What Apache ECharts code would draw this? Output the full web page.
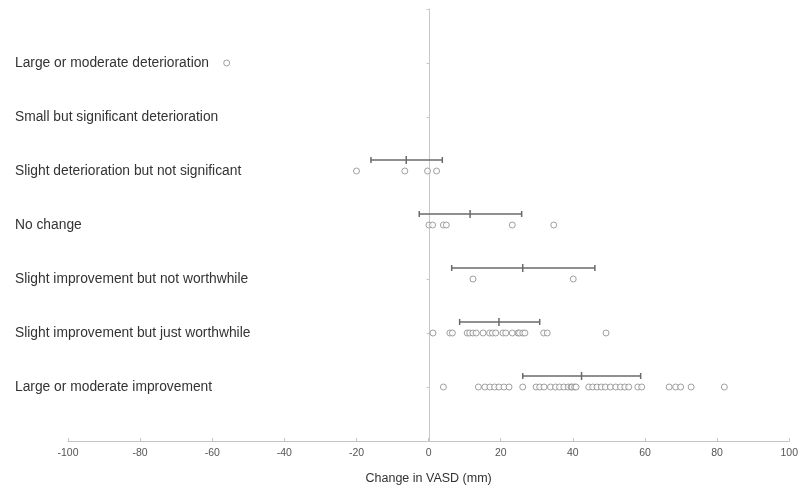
<!DOCTYPE html>
<html>
<head>
<meta charset="utf-8">
<script src="https://cdn.jsdelivr.net/npm/echarts@6/dist/echarts.min.js"></script>
<style>html,body{margin:0;padding:0;background:#fff}#c{width:801px;height:492px}</style>
</head>
<body>
<div id="c"></div>
<script>
// ---- data ----
var categories = [
  'Large or moderate deterioration',
  'Small but significant deterioration',
  'Slight deterioration but not significant',
  'No change',
  'Slight improvement but not worthwhile',
  'Slight improvement but just worthwhile',
  'Large or moderate improvement'
];
var largeDeterioration = [-56];
var smallDeterioration = [];
var slightDeterioration = [-20, -6.6, -0.3, 2.2];
var noChange = [0.1, 1.1, 4.1, 4.9, 23.2, 34.7];
var slightNotWorthwhile = [12.3, 40.1];
var slightJustWorthwhile = [1.2, 5.9, 6.6, 10.7, 11.4, 12.3, 13.2, 15.1, 16.9, 17.7, 18.6, 20.6, 21.4, 23.2, 24.8, 25.2, 26.1, 26.7, 31.9, 32.9, 49.2];
var largeImprovement = [4.1, 13.8, 15.6, 17.0, 18.3, 19.5, 20.9, 22.3, 26.1, 29.8, 30.8, 32.0, 33.8, 35.2, 36.3, 37.5, 38.7, 39.5, 39.8, 40.5, 40.9, 44.4, 45.5, 46.7, 47.9, 49.0, 50.4, 51.9, 53.2, 54.4, 55.5, 58.0, 59.1, 66.7, 68.5, 69.9, 72.8, 82.0];
// error bars (mean, low, high) per category; null = none
var barMean = [null, null, -6.2, 11.5, 26.1, 19.5, 42.4];
var barLow  = [null, null, -16.0, -2.6, 6.4, 8.6, 26.1];
var barHigh = [null, null, 3.8, 25.8, 46.1, 30.8, 58.8];
var xTicks = [-100, -80, -60, -40, -20, 0, 20, 40, 60, 80, 100];
var xTitle = 'Change in VASD (mm)';
// --------------------------------------

var groups = [largeDeterioration, smallDeterioration, slightDeterioration, noChange, slightNotWorthwhile, slightJustWorthwhile, largeImprovement];
var pts = [];
groups.forEach(function (g, i) { g.forEach(function (v) { pts.push([v, i + 1]); }); });
var bars = [];
barMean.forEach(function (m, i) { if (m !== null) bars.push([m, barLow[i], barHigh[i], i + 1]); });

var W = 801, gridL = 68, gridR = 10;
var zeroOffset = -((W - gridL - gridR) / 2);

var chart = echarts.init(document.getElementById('c'));
var font = '"Liberation Sans", Arial, sans-serif';
chart.setOption({
  animation: false,
  grid: { left: gridL, right: gridR, top: 9, bottom: 51 },
  xAxis: {
    type: 'value', min: xTicks[0], max: xTicks[xTicks.length - 1], interval: 20,
    axisLine: { show: true, onZero: false, lineStyle: { color: '#c4c4c4', width: 1 } },
    axisTick: { show: true, inside: true, length: 3, lineStyle: { color: '#c4c4c4' } },
    splitLine: { show: false },
    axisLabel: { color: '#555', fontSize: 10.5, fontFamily: font, margin: 7 },
    name: xTitle, nameLocation: 'middle', nameGap: 31,
    nameTextStyle: { color: '#333', fontSize: 12.5, fontFamily: font }
  },
  yAxis: [{
    type: 'value', min: 0, max: 8, interval: 1, inverse: true, position: 'left',
    axisLine: { show: false }, axisTick: { show: false }, splitLine: { show: false },
    axisLabel: {
      align: 'left', margin: 53, color: '#333', fontSize: 13.8, fontFamily: font,
      padding: [0, 0, 5, 0],
      formatter: function (v) { return (v >= 1 && v <= categories.length) ? categories[v - 1] : ''; }
    }
  }, {
    type: 'value', min: 0, max: 8, interval: 1, inverse: true, position: 'left', offset: zeroOffset,
    axisLine: { show: true, onZero: false, lineStyle: { color: '#c8c8c8', width: 1 } },
    axisTick: { show: true, inside: false, length: 3, lineStyle: { color: '#c8c8c8' } },
    axisLabel: { show: false }, splitLine: { show: false }
  }],
  series: [{
    type: 'scatter', yAxisIndex: 0, data: pts,
    symbol: 'circle', symbolSize: 6,
    itemStyle: { color: '#fff', borderColor: '#8a8a8a', borderWidth: 1 },
    z: 3
  }, {
    type: 'custom', yAxisIndex: 0, data: bars, z: 4,
    encode: { x: [0, 1, 2], y: 3 },
    renderItem: function (params, api) {
      var y = api.value(3);
      var pm = api.coord([api.value(0), y]);
      var pl = api.coord([api.value(1), y]);
      var ph = api.coord([api.value(2), y]);
      var yy = pm[1] - 11;
      var st = { stroke: '#6a6a6a', lineWidth: 1.5 };
      return {
        type: 'group', children: [
          { type: 'line', shape: { x1: pl[0], y1: yy, x2: ph[0], y2: yy }, style: st },
          { type: 'line', shape: { x1: pl[0], y1: yy - 3, x2: pl[0], y2: yy + 3 }, style: st },
          { type: 'line', shape: { x1: ph[0], y1: yy - 3, x2: ph[0], y2: yy + 3 }, style: st },
          { type: 'line', shape: { x1: pm[0], y1: yy - 4, x2: pm[0], y2: yy + 4 }, style: st }
        ]
      };
    }
  }]
});
</script>
</body>
</html>
